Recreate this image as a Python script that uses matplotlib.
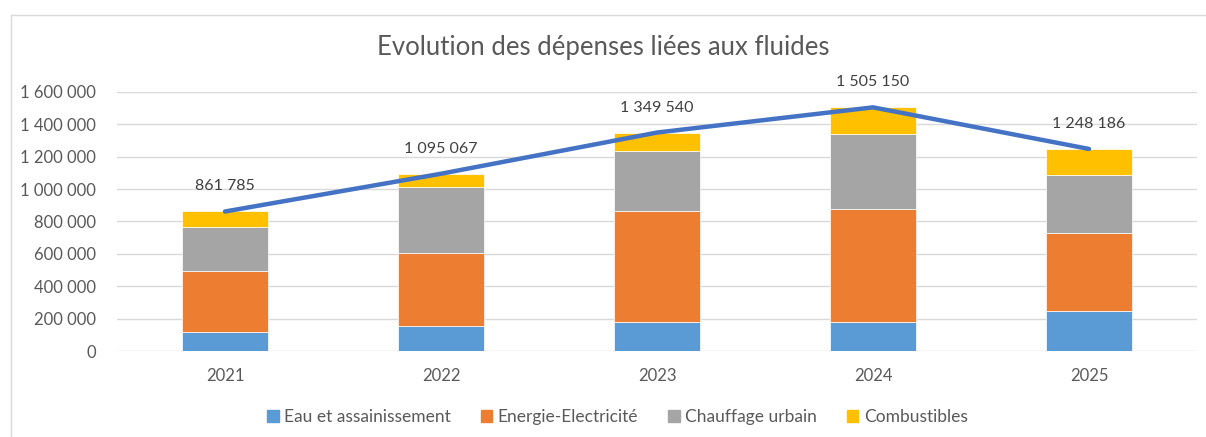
import matplotlib
matplotlib.use('Agg')
import matplotlib.pyplot as plt
import matplotlib.patches as mpatches
import numpy as np

plt.rcParams['font.family'] = ['Lato', 'DejaVu Sans']

# donnees
years = ['2021', '2022', '2023', '2024', '2025']
eau = [118000, 155000, 180000, 180000, 250000]
energie = [377000, 448000, 687000, 695000, 477000]
chauffage = [273000, 410000, 371000, 465000, 363000]
combustibles = [93785, 82067, 111540, 165150, 158186]
totals = [861785, 1095067, 1349540, 1505150, 1248186]

series_names = ['Eau et assainissement', 'Energie-Electricité', 'Chauffage urbain', 'Combustibles']
colors = ['#5B9BD5', '#ED7D31', '#A5A5A5', '#FFC000']
txt = '#595959'

fig = plt.figure(figsize=(12.06, 4.37), dpi=100)
ax = fig.add_axes([117 / 1206, 1 - 351 / 437, 1080 / 1206, 259 / 437])

# cadre du graphique
fig.patches.append(mpatches.Rectangle((11 / 1206, -0.1), 1.2, 1 - 15 / 437 + 0.1,
                                      transform=fig.transFigure, fill=False,
                                      edgecolor='#D9D9D9', linewidth=1.0))

x = np.arange(len(years))
bottom = np.zeros(len(years))
for vals, name, c in zip([eau, energie, chauffage, combustibles], series_names, colors):
    ax.bar(x, vals, 0.4, bottom=bottom, color=c, label=name, edgecolor='white', linewidth=0.5, zorder=2)
    bottom += np.array(vals)

ax.plot(x, totals, color='#4472C4', linewidth=3.2, solid_capstyle='round', zorder=3)
for xi, t in zip(x, totals):
    lab = f'{t:,}'.replace(',', ' ')
    ax.annotate(lab, (xi, t), xytext=(0, 18), textcoords='offset points',
                ha='center', va='center', fontsize=11.5, color='#404040')

ax.set_xlim(-0.5, 4.5)
ax.set_ylim(0, 1600000)
ax.set_yticks(np.arange(0, 1600001, 200000))
ax.set_yticklabels([f'{int(v):,}'.replace(',', ' ') for v in ax.get_yticks()])
ax.set_xticks(x)
ax.set_xticklabels(years)
ax.tick_params(axis='both', length=0, labelsize=12, colors=txt)
ax.tick_params(axis='y', pad=15)
ax.tick_params(axis='x', pad=12)
ax.grid(axis='y', color='#D9D9D9', linewidth=1.0, zorder=0)
ax.set_axisbelow(True)
for s in ax.spines.values():
    s.set_visible(False)

fig.text(0.5, 1 - 48 / 437, 'Evolution des dépenses liées aux fluides', ha='center', va='center',
         fontsize=18.5, color=txt)

handles = [mpatches.Patch(color=c) for c in colors]
fig.legend(handles, series_names, loc='center', bbox_to_anchor=(0.512, 1 - 417 / 437), ncol=4,
           frameon=False, fontsize=12.5, labelcolor=txt, handlelength=0.65, handleheight=0.65,
           handletextpad=0.3, columnspacing=1.75)

fig.savefig('out.png', dpi=100)
